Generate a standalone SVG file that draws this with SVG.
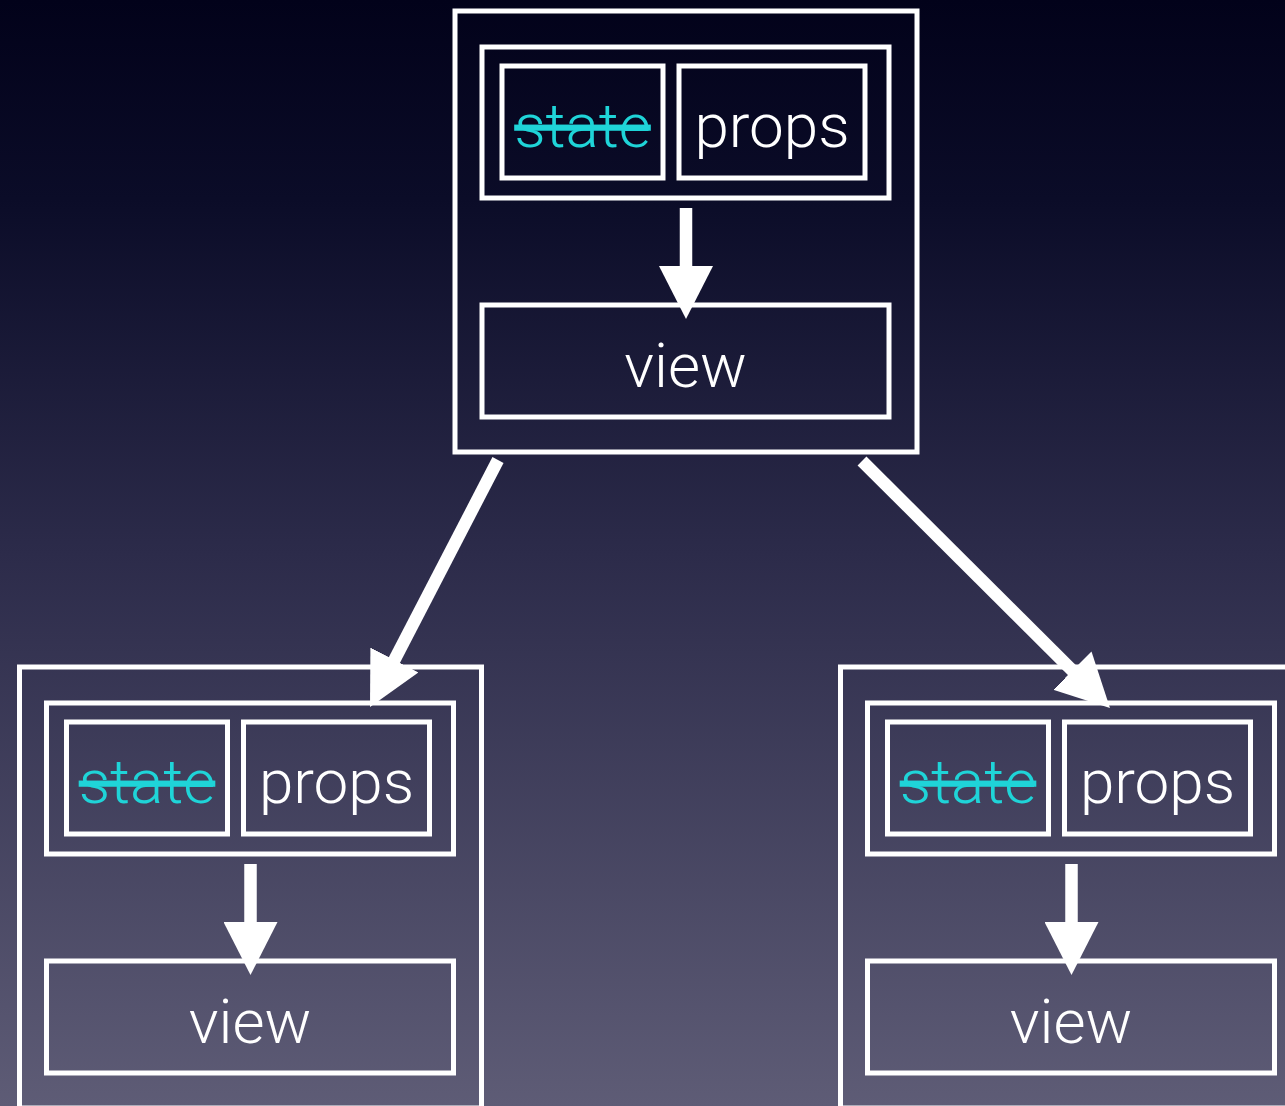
<svg xmlns="http://www.w3.org/2000/svg" width="1285" height="1106" viewBox="0 0 1285 1106">
  <defs>
    <linearGradient id="bg" x1="0" y1="0" x2="0" y2="1">
      <stop offset="0" stop-color="#02021a"/>
      <stop offset="0.18" stop-color="#0b0c28"/>
      <stop offset="0.5" stop-color="#2c2b4a"/>
      <stop offset="1" stop-color="#5e5c76"/>
    </linearGradient>
    <marker id="head" viewBox="0 0 53 54" refX="8" refY="27" markerWidth="53" markerHeight="54" markerUnits="userSpaceOnUse" orient="auto">
      <path d="M0,0 L53,27 L0,54 Z" fill="#ffffff"/>
    </marker>
  </defs>
  <style>
    .box { fill: none; stroke: #ffffff; stroke-width: 5; }
    .lbl { font-family: "Helvetica Neue", Roboto, "Open Sans", "Liberation Sans", sans-serif; font-weight: 300; font-size: 62px; text-anchor: middle; fill: #ffffff; }
    .state { fill: #1fd4d8; text-decoration: line-through; }
    .link { stroke: #ffffff; stroke-width: 12.5; fill: none; marker-end: url(#head); }
  </style>

  <rect x="0" y="0" width="1285" height="1106" fill="url(#bg)"/>

  <!-- component: outer frame, state/props pair, view -->
  <g id="parent" transform="translate(455,11)">
    <rect class="box" x="0" y="0" width="462" height="441"/>
    <rect class="box" x="27" y="36" width="407" height="151"/>
    <rect class="box" x="47" y="55" width="161" height="112"/>
    <rect class="box" x="224" y="55" width="186" height="112"/>
    <rect class="box" x="27" y="294" width="407" height="112"/>
    <text class="lbl state" x="127.5" y="136">state</text>
    <text class="lbl" x="317" y="136">props</text>
    <text class="lbl" x="230.5" y="376">view</text>
  </g>

  <g id="child-left" transform="translate(19.5,667)">
    <rect class="box" x="0" y="0" width="462" height="441"/>
    <rect class="box" x="27" y="36" width="407" height="151"/>
    <rect class="box" x="47" y="55" width="161" height="112"/>
    <rect class="box" x="224" y="55" width="186" height="112"/>
    <rect class="box" x="27" y="294" width="407" height="112"/>
    <text class="lbl state" x="127.5" y="136">state</text>
    <text class="lbl" x="317" y="136">props</text>
    <text class="lbl" x="230.5" y="376">view</text>
  </g>

  <g id="child-right" transform="translate(840.5,667)">
    <rect class="box" x="0" y="0" width="462" height="441"/>
    <rect class="box" x="27" y="36" width="407" height="151"/>
    <rect class="box" x="47" y="55" width="161" height="112"/>
    <rect class="box" x="224" y="55" width="186" height="112"/>
    <rect class="box" x="27" y="294" width="407" height="112"/>
    <text class="lbl state" x="127.5" y="136">state</text>
    <text class="lbl" x="317" y="136">props</text>
    <text class="lbl" x="230.5" y="376">view</text>
  </g>

  <g id="connectors">
    <!-- inputs to view inside each component -->
    <line class="link" x1="686" y1="208" x2="686" y2="274"/>
    <line class="link" x1="250.5" y1="864" x2="250.5" y2="930"/>
    <line class="link" x1="1071.5" y1="864" x2="1071.5" y2="930"/>
    <!-- parent passes props down to children -->
    <line class="link" x1="498" y1="460" x2="390.7" y2="667.1"/>
    <line class="link" x1="862" y1="461" x2="1078.1" y2="676.2"/>
  </g>
</svg>
